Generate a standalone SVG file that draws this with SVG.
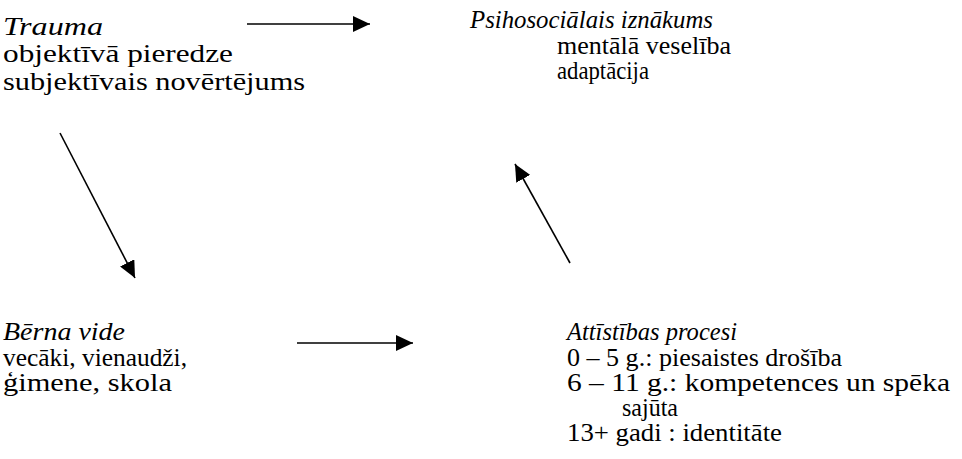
<svg xmlns="http://www.w3.org/2000/svg" width="962" height="459" viewBox="0 0 962 459">
<defs>
<style>
text{font-family:"Liberation Serif","DejaVu Serif",serif;font-size:25px;fill:#000}
.h{font-style:italic}
.c{stroke:#000;stroke-width:1.6;fill:none}
</style>
<marker id="ah" markerUnits="userSpaceOnUse" markerWidth="20" markerHeight="16" refX="17" refY="8" orient="auto">
<path d="M0,0 L17,8 L0,16 Z" fill="#000"/>
</marker>
</defs>
<rect width="962" height="459" fill="#fff"/>
<g id="connectors">
<line class="c" x1="247" y1="24" x2="370" y2="24" marker-end="url(#ah)"/>
<line class="c" x1="60" y1="133" x2="135" y2="278" marker-end="url(#ah)"/>
<line class="c" x1="570" y1="263" x2="515" y2="164" marker-end="url(#ah)"/>
<line class="c" x1="297" y1="343" x2="413" y2="343" marker-end="url(#ah)"/>
</g>
<g id="trauma">
<text class="h" x="3" y="35" textLength="100" lengthAdjust="spacingAndGlyphs">Trauma</text>
<text x="3" y="62" textLength="230" lengthAdjust="spacingAndGlyphs">objektīvā pieredze</text>
<text x="3" y="90" textLength="302" lengthAdjust="spacingAndGlyphs">subjektīvais novērtējums</text>
</g>
<g id="iznakums">
<text class="h" x="470" y="28" textLength="243" lengthAdjust="spacingAndGlyphs">Psihosociālais iznākums</text>
<text x="557" y="54" textLength="174" lengthAdjust="spacingAndGlyphs">mentālā veselība</text>
<text x="557" y="79" textLength="92" lengthAdjust="spacingAndGlyphs">adaptācija</text>
</g>
<g id="vide">
<text class="h" x="3" y="340" textLength="122" lengthAdjust="spacingAndGlyphs">Bērna vide</text>
<text x="3" y="366" textLength="184" lengthAdjust="spacingAndGlyphs">vecāki, vienaudži,</text>
<text x="3" y="391" textLength="169" lengthAdjust="spacingAndGlyphs">ģimene, skola</text>
</g>
<g id="procesi">
<text class="h" x="567" y="340" textLength="170" lengthAdjust="spacingAndGlyphs">Attīstības procesi</text>
<text x="567" y="366" textLength="275" lengthAdjust="spacingAndGlyphs">0 – 5 g.: piesaistes drošība</text>
<text x="567" y="391" textLength="383" lengthAdjust="spacingAndGlyphs">6 – 11 g.: kompetences un spēka</text>
<text x="622" y="416" textLength="56" lengthAdjust="spacingAndGlyphs">sajūta</text>
<text x="567" y="441" textLength="215" lengthAdjust="spacingAndGlyphs">13+ gadi : identitāte</text>
</g>
</svg>
